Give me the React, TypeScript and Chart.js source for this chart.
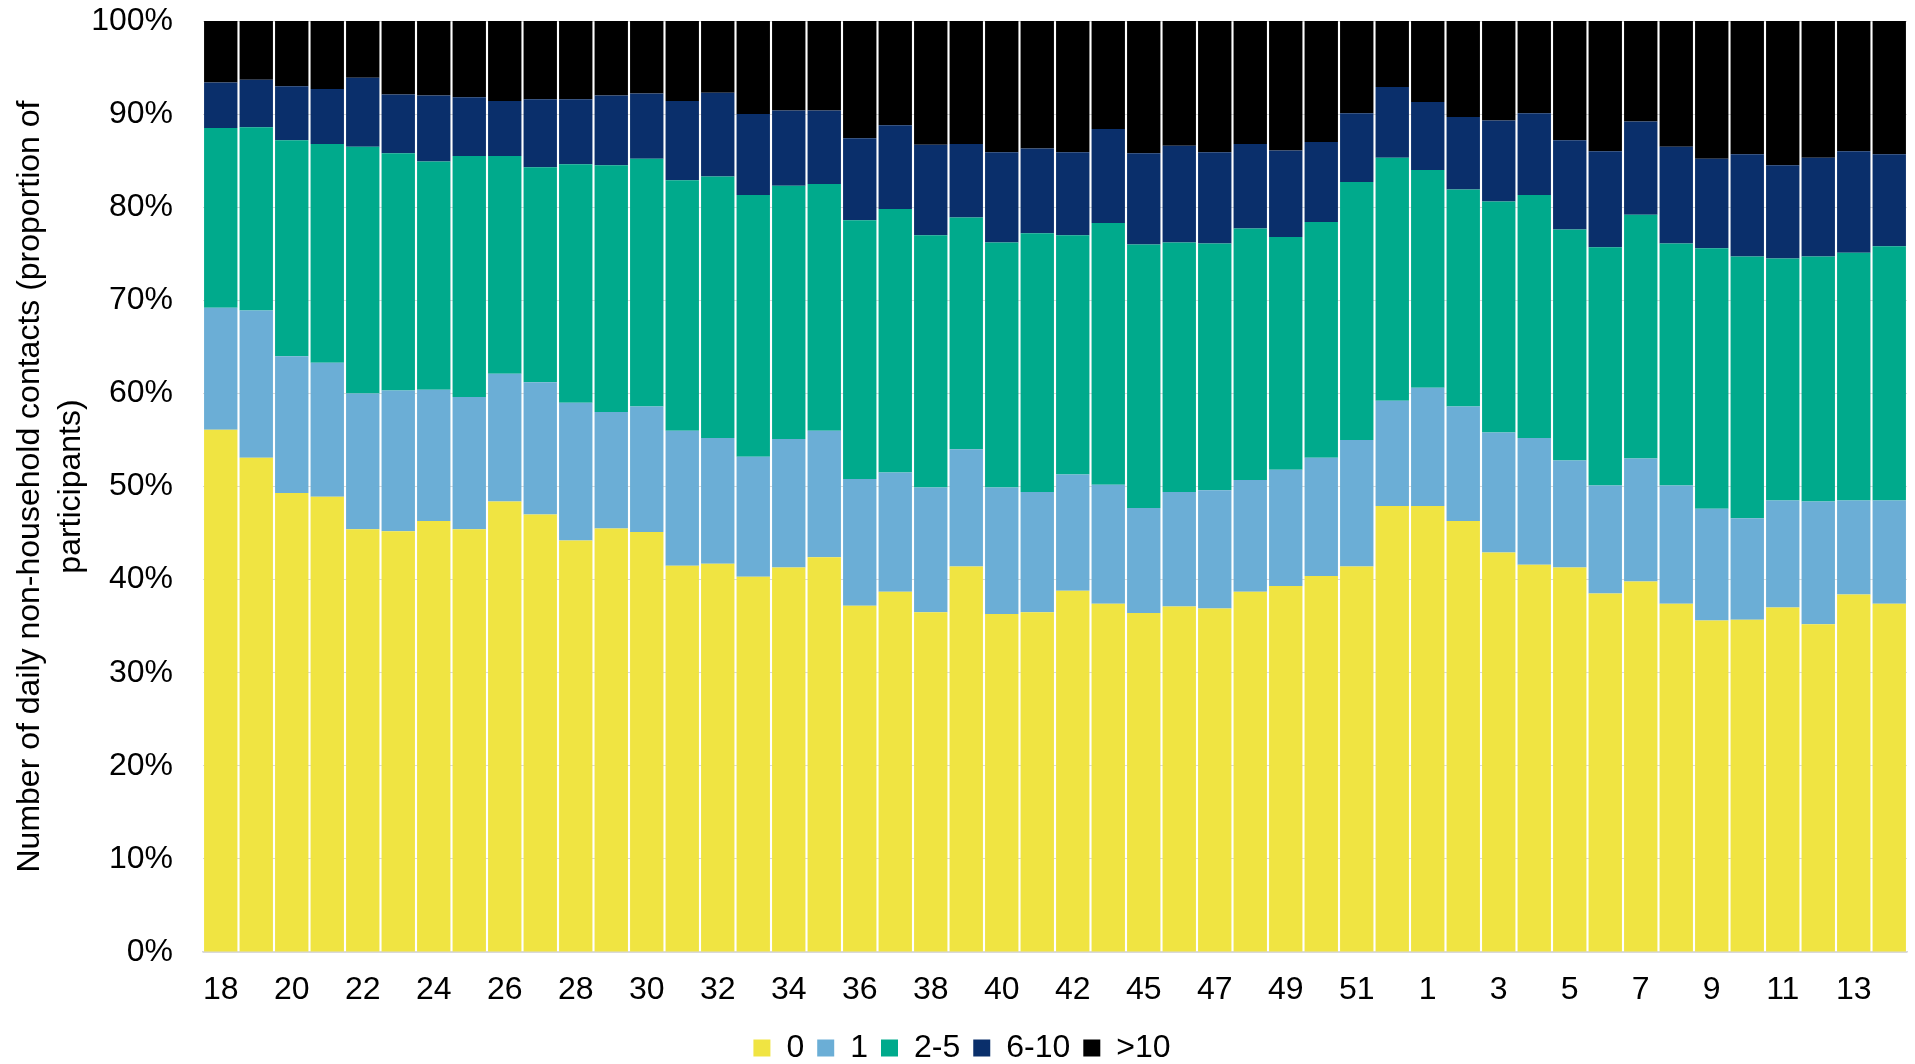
import React, { useEffect, useRef } from "react";
import { Chart, registerables } from "chart.js";

Chart.register(...registerables);

// Week labels (ISO weeks, 2020 -> 2021)
const weeks: string[] = [
  "18", "19", "20", "21", "22", "23", "24", "25", "26", "27", "28", "29", "30",
  "31", "32", "33", "34", "35", "36", "37", "38", "39", "40", "41", "42", "43",
  "45", "46", "47", "48", "49", "50", "51", "52", "1", "2", "3", "4", "5", "6",
  "7", "8", "9", "10", "11", "12", "13", "14",
];

// Proportion of participants (%) by number of daily non-household contacts
const zeroContacts: number[] = [
  56.1, 53.1, 49.3, 48.9, 45.4, 45.2, 46.3, 45.4, 48.4, 47.0, 44.2, 45.5, 45.1,
  41.5, 41.7, 40.3, 41.3, 42.4, 37.2, 38.7, 36.5, 41.4, 36.3, 36.5, 38.8, 37.4,
  36.4, 37.1, 36.9, 38.7, 39.3, 40.4, 41.4, 47.9, 47.9, 46.3, 42.9, 41.6, 41.3,
  38.5, 39.8, 37.4, 35.6, 35.7, 37.0, 35.2, 38.4, 37.4,
];
const oneContact: number[] = [
  13.1, 15.8, 14.7, 14.4, 14.6, 15.1, 14.1, 14.2, 13.7, 14.2, 14.8, 12.5, 13.5,
  14.5, 13.5, 12.9, 13.8, 13.6, 13.6, 12.8, 13.4, 12.6, 13.6, 12.9, 12.5, 12.8,
  11.3, 12.3, 12.7, 12.0, 12.5, 12.7, 13.6, 11.3, 12.7, 12.3, 12.9, 13.6, 11.5,
  11.6, 13.2, 12.7, 12.0, 10.9, 11.5, 13.2, 10.1, 11.1,
];
const twoToFive: number[] = [
  19.3, 19.7, 23.2, 23.5, 26.5, 25.5, 24.5, 25.9, 23.4, 23.1, 25.6, 26.5, 26.6,
  26.9, 28.1, 28.1, 27.2, 26.5, 27.8, 28.3, 27.1, 24.9, 26.3, 27.8, 25.7, 28.1,
  28.3, 26.8, 26.5, 27.0, 25.0, 25.3, 27.7, 26.1, 23.4, 23.3, 24.8, 26.1, 24.8,
  25.6, 26.2, 26.0, 28.0, 28.1, 26.0, 26.3, 26.6, 27.3,
];
const sixToTen: number[] = [
  4.9, 5.1, 5.8, 5.9, 7.4, 6.3, 7.1, 6.3, 5.9, 7.3, 7.0, 7.5, 7.0,
  8.5, 9.0, 8.7, 8.1, 7.9, 8.8, 9.0, 9.7, 7.9, 9.7, 9.1, 8.9, 10.1,
  9.8, 10.4, 9.8, 9.1, 9.3, 8.6, 7.4, 7.6, 7.3, 7.8, 8.7, 8.8, 9.6,
  10.3, 10.0, 10.4, 9.6, 11.0, 10.0, 10.6, 10.9, 9.9,
];
const overTen: number[] = [
  6.6, 6.3, 7.0, 7.3, 6.1, 7.9, 8.0, 8.2, 8.6, 8.4, 8.4, 8.0, 7.8,
  8.6, 7.7, 10.0, 9.6, 9.6, 12.6, 11.2, 13.3, 13.2, 14.1, 13.7, 14.1, 11.6,
  14.2, 13.4, 14.1, 13.2, 13.9, 13.0, 9.9, 7.1, 8.7, 10.3, 10.7, 9.9, 12.8,
  14.0, 10.8, 13.5, 14.8, 14.3, 15.5, 14.7, 14.0, 14.3,
];

const seriesNames: string[] = ["0", "1", "2-5", "6-10", ">10"];
const seriesColors: string[] = ["#F0E442", "#6BAED6", "#00AA8C", "#0A2F6B", "#000000"];
const yTickValues: number[] = [0, 10, 20, 30, 40, 50, 60, 70, 80, 90, 100];
const yTitle: string[] = [
  "Number of daily non-household contacts (proportion of",
  "participants)",
];

const FONT = "'Liberation Sans', Arial, Helvetica, sans-serif";

export default function App() {
  const canvasRef = useRef<HTMLCanvasElement | null>(null);

  useEffect(() => {
    if (!canvasRef.current) return;
    const seriesData = [zeroContacts, oneContact, twoToFive, sixToTen, overTen];
    const chart = new Chart(canvasRef.current, {
      type: "bar",
      data: {
        labels: weeks,
        datasets: seriesNames.map((name, i) => ({
          label: name,
          data: seriesData[i],
          backgroundColor: seriesColors[i],
          borderWidth: 0,
          categoryPercentage: 1.0,
          barPercentage: 0.94,
        })),
      },
      options: {
        animation: false,
        responsive: true,
        maintainAspectRatio: false,
        layout: { padding: { top: 21, right: 8, left: 17, bottom: -10 } },
        plugins: {
          tooltip: { enabled: false },
          legend: {
            position: "bottom",
            labels: {
              boxWidth: 17,
              boxHeight: 17,
              padding: 13,
              color: "#000",
              font: { family: FONT, size: 32 },
            },
          },
        },
        scales: {
          x: {
            stacked: true,
            grid: { display: false, drawTicks: false },
            border: { display: true, color: "#d9d9d9", width: 1.5 },
            afterFit: (scale: any) => {
              scale.height = 67;
            },
            ticks: {
              autoSkip: false,
              maxRotation: 0,
              minRotation: 0,
              padding: 19,
              color: "#000",
              font: { family: FONT, size: 32 },
              callback: (_v: any, index: number) => (index % 2 === 0 ? weeks[index] : ""),
            },
          },
          y: {
            stacked: true,
            min: 0,
            max: 100,
            afterBuildTicks: (scale: any) => {
              scale.ticks = yTickValues.map((v) => ({ value: v }));
            },
            afterFit: (scale: any) => {
              scale.width = 186;
            },
            grid: {
              color: "#d9d9d9",
              lineWidth: 1,
              drawTicks: true,
              tickLength: 30,
              tickColor: "rgba(0,0,0,0)",
            },
            border: { display: false },
            ticks: {
              padding: 0,
              color: "#000",
              font: { family: FONT, size: 32 },
              callback: (v: any) => `${v}%`,
            },
            title: {
              display: true,
              text: yTitle,
              color: "#000",
              font: { family: FONT, size: 32, lineHeight: 1.27 },
              padding: { top: -7, bottom: 0 },
            },
          },
        },
      },
    });
    return () => chart.destroy();
  }, []);

  return (
    <div
      style={{
        position: "absolute",
        left: 0,
        top: 0,
        width: "1915px",
        height: "1064px",
        background: "#fff",
      }}
    >
      <canvas ref={canvasRef} />
    </div>
  );
}
